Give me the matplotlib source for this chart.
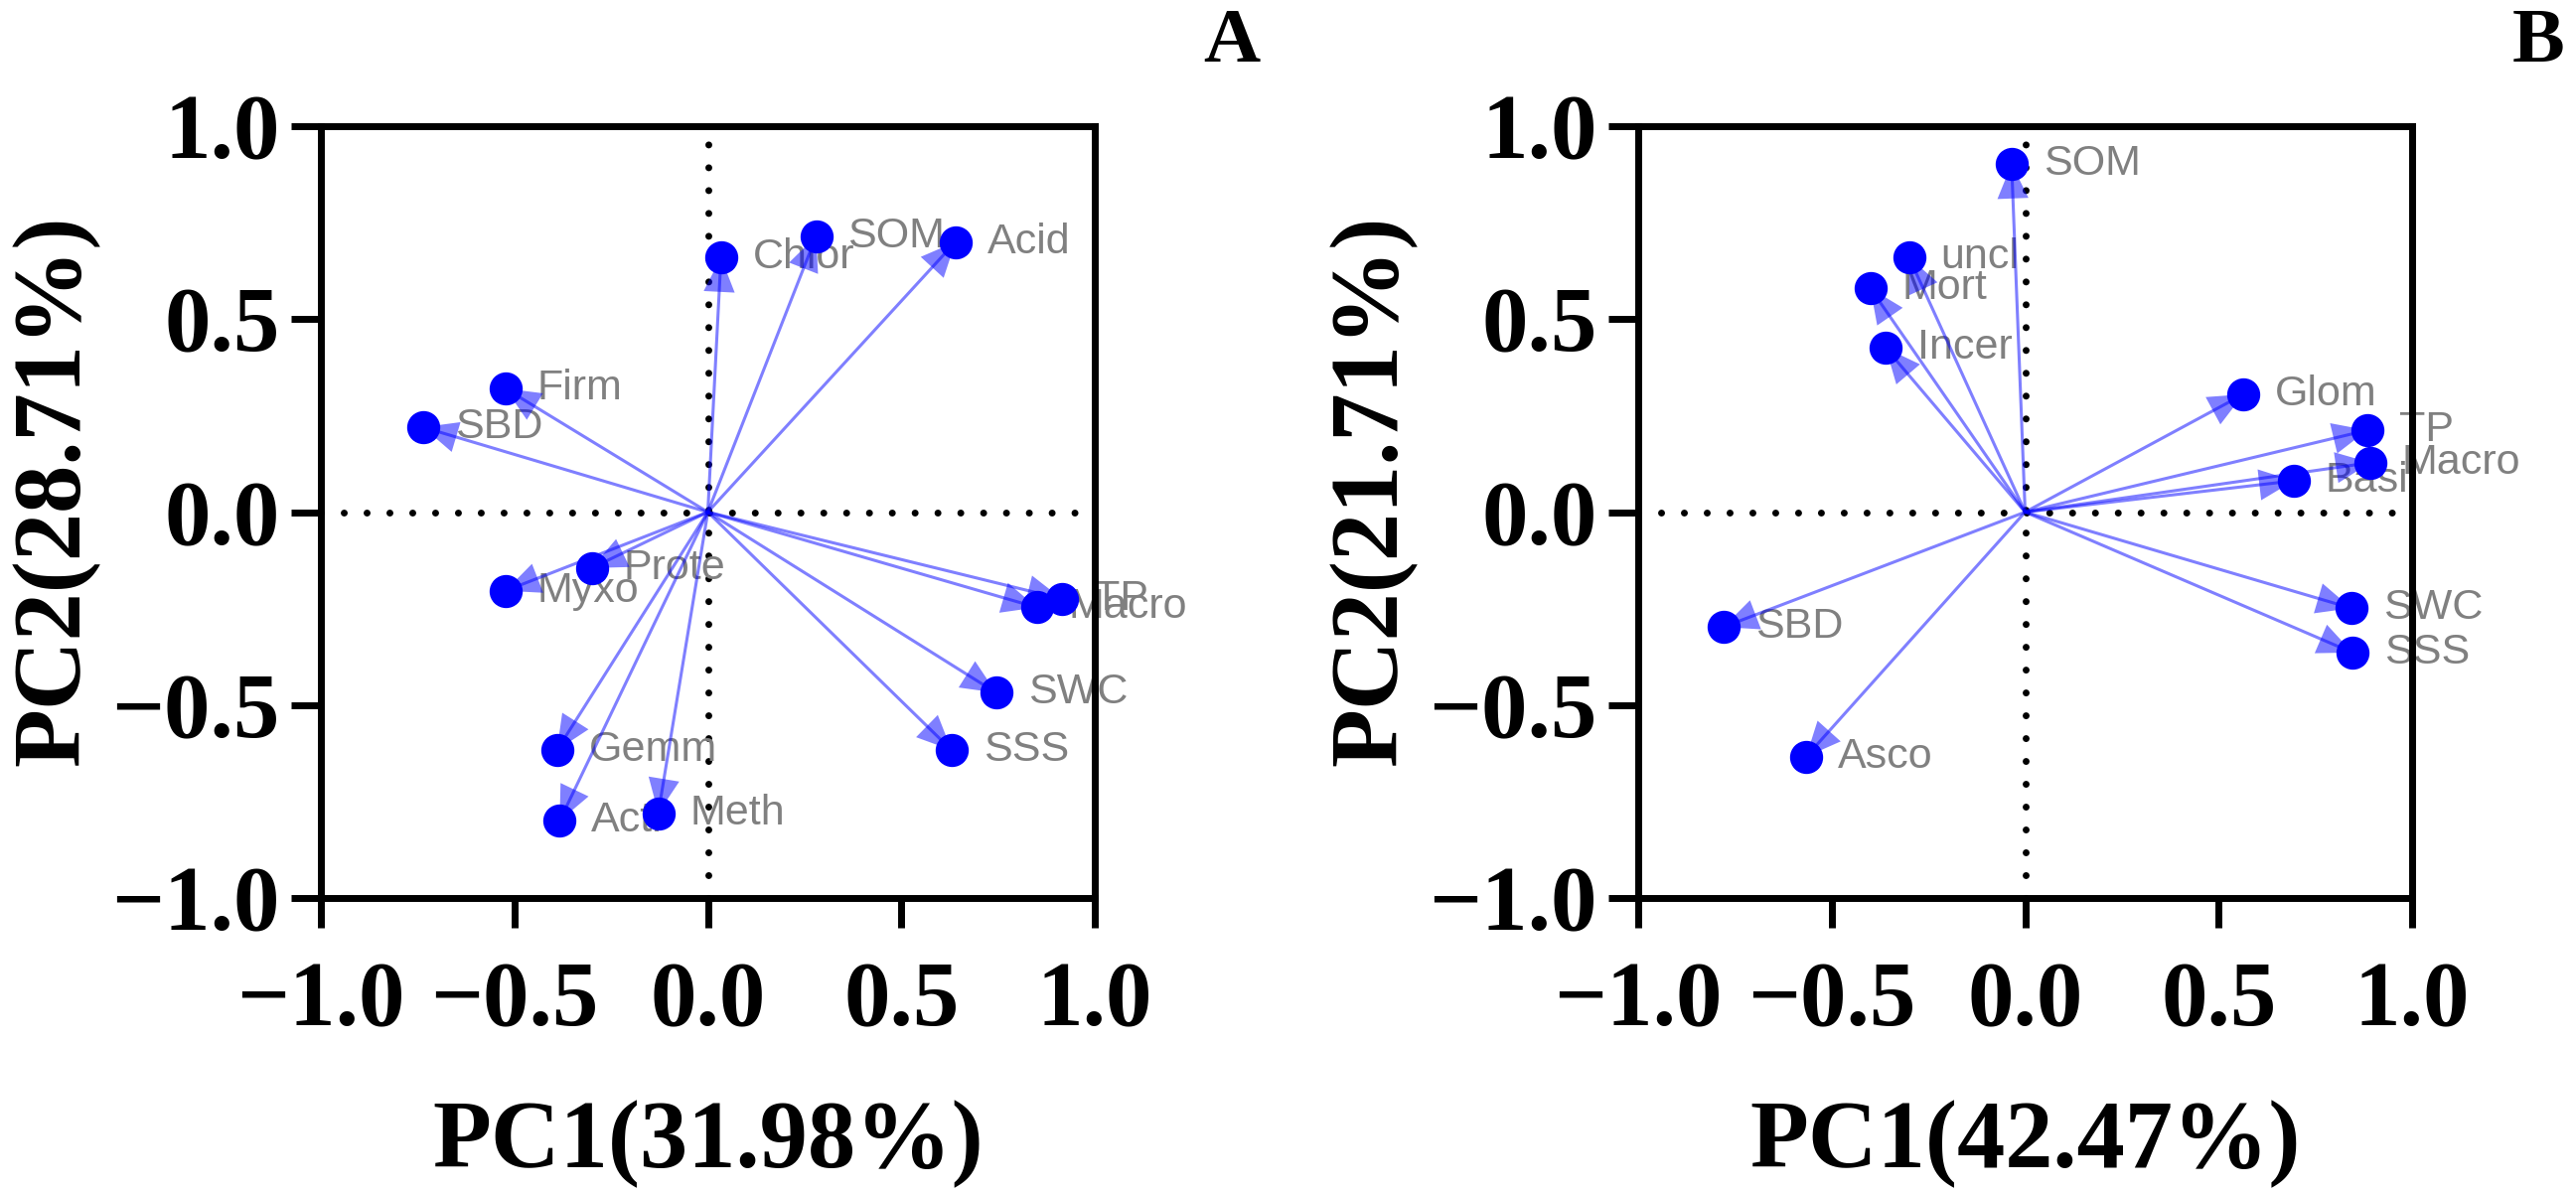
import numpy as np
import matplotlib.pyplot as plt

# Panel A - bacteria loadings
labels_a = ["Chlor", "SOM", "Acid", "Firm", "SBD", "Prote", "Myxo", "TP", "Macro",
            "SWC", "SSS", "Gemm", "Acti", "Meth"]
pc1_a = [0.034, 0.28, 0.64, -0.523, -0.736, -0.30, -0.523, 0.915, 0.85,
         0.745, 0.63, -0.39, -0.383, -0.128]
pc2_a = [0.66, 0.715, 0.70, 0.32, 0.22, -0.145, -0.204, -0.225, -0.247,
         -0.468, -0.617, -0.617, -0.80, -0.78]

# Panel B - fungi loadings
labels_b = ["SOM", "uncl", "Mort", "Incer", "Glom", "TP", "Macro", "Basi",
            "SWC", "SSS", "SBD", "Asco"]
pc1_b = [-0.035, -0.30, -0.40, -0.36, 0.564, 0.884, 0.892, 0.694,
         0.843, 0.846, -0.78, -0.566]
pc2_b = [0.902, 0.66, 0.58, 0.425, 0.305, 0.212, 0.128, 0.081,
         -0.249, -0.364, -0.298, -0.634]

xlabels = ["PC1(31.98%)", "PC1(42.47%)"]
ylabels = ["PC2(28.71%)", "PC2(21.71%)"]
panel_tags = ["A", "B"]

ticks = [-1.0, -0.5, 0.0, 0.5, 1.0]
tick_text = ["\u22121.0", "\u22120.5", "0.0", "0.5", "1.0"]

serif = ["Liberation Serif", "DejaVu Serif"]
sans = ["Liberation Sans", "DejaVu Sans"]

W, H = 2593, 1203
fig = plt.figure(figsize=(W / 100, H / 100), dpi=100)

axes_left = [323 / W, 1649 / W]
ax_w = 779 / W
ax_b = (H - 904) / H
ax_h = 777 / H

datasets = [(labels_a, pc1_a, pc2_a), (labels_b, pc1_b, pc2_b)]

for i, (labs, xs, ys) in enumerate(datasets):
    ax = fig.add_axes([axes_left[i], ax_b, ax_w, ax_h])
    ax.set_xlim(-1, 1)
    ax.set_ylim(-1, 1)

    # dotted zero lines
    for ln in (ax.axhline(0, color="black", lw=5), ax.axvline(0, color="black", lw=5)):
        ln.set_linestyle((0, (0.01, 3.3)))
        ln.set_dash_capstyle("round")
        ln.set_zorder(1)

    ax.plot(xs, ys, "o", color="#0000ff", markersize=23, zorder=4, clip_on=False)

    for lab, x, y in zip(labs, xs, ys):
        ax.plot([0, x], [0, y], color="#0000ff", alpha=0.5, lw=2.2, zorder=5,
                solid_capstyle="butt")
        ax.annotate("", xy=(x, y), xytext=(0.8 * x, 0.8 * y),
                    arrowprops=dict(arrowstyle="-|>,head_length=1.0,head_width=0.45",
                                    color="#0000ff", alpha=0.5, lw=0,
                                    mutation_scale=25, shrinkA=0, shrinkB=0),
                    zorder=5, annotation_clip=False)
        ax.annotate(lab, xy=(x, y), xytext=(23, 0), textcoords="offset points",
                    ha="left", va="center", fontsize=31, color="#808080",
                    family=sans, zorder=2, annotation_clip=False)

    for sp in ax.spines.values():
        sp.set_linewidth(5)
        sp.set_zorder(2.5)

    ax.set_xticks(ticks)
    ax.set_yticks(ticks)
    ax.set_xticklabels(tick_text)
    ax.set_yticklabels(tick_text)
    ax.tick_params(direction="out", length=21.6, width=5)
    ax.tick_params(axis="x", pad=24)
    ax.tick_params(axis="y", pad=8)
    for t in ax.get_xticklabels() + ax.get_yticklabels():
        t.set_family(serif)
        t.set_fontweight("bold")
        t.set_fontsize(67)

    ax.set_xlabel(xlabels[i], family=serif, fontweight="bold", fontsize=69.5)
    ax.set_ylabel(ylabels[i], family=serif, fontweight="bold", fontsize=69.5)
    ax.xaxis.set_label_coords(0.5, -0.261)
    ax.yaxis.set_label_coords(-0.286, 0.528)

fig.text(1240 / W, 1 - 44 / H, panel_tags[0], family=serif, fontweight="bold",
         fontsize=57, ha="center", va="center")
fig.text(2555 / W, 1 - 44 / H, panel_tags[1], family=serif, fontweight="bold",
         fontsize=57, ha="center", va="center")

fig.savefig("out.png", dpi=100, facecolor="white")
